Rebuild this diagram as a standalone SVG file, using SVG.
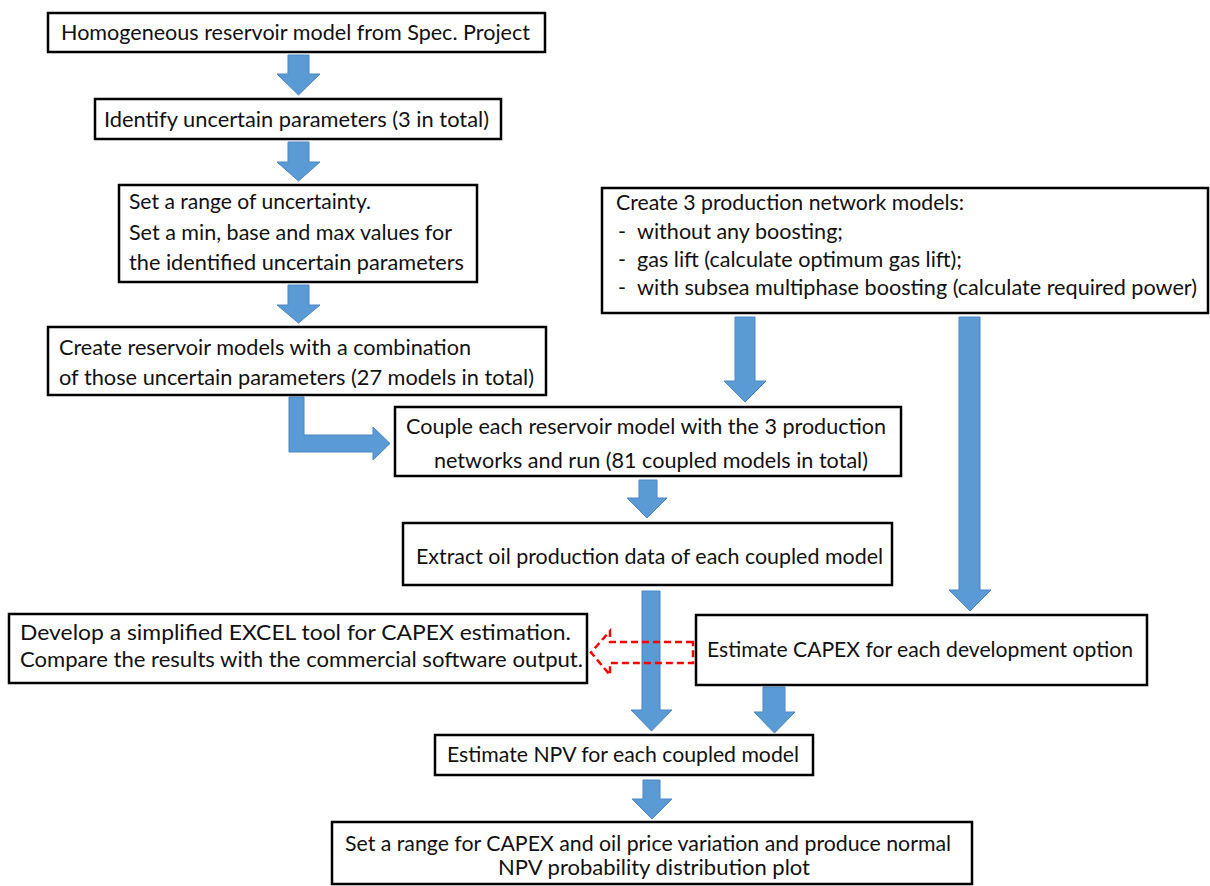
<svg xmlns="http://www.w3.org/2000/svg" width="1210" height="886" viewBox="0 0 1210 886">
<style>
.box{fill:#fff;stroke:#000;stroke-width:2.5}
.t{font-family:Lato,"Open Sans","Liberation Sans",sans-serif;font-size:21.5px;fill:#111}
.s{font-size:20.5px}
.arr{fill:#5B9BD5;stroke:#4A87C2;stroke-width:1}
.red{fill:none;stroke:#FF0000;stroke-width:2.5;stroke-dasharray:7,4}
</style>
<rect width="1210" height="886" fill="#fff"/>
<g id="connectors">
<polygon class="arr" points="288,55 309,55 309,74 320,74 298.5,95 277,74 288,74"/>
<polygon class="arr" points="288,142 309,142 309,162 320,162 298.5,181 277,162 288,162"/>
<polygon class="arr" points="288,285 309,285 309,305 320,305 298.5,323 277,305 288,305"/>
<polygon class="arr" points="289,397 304,397 304,435 373,435 373,427 390,443.5 373,460 373,452 289,452"/>
<polygon class="arr" points="735,317 755,317 755,381 766,381 745,402 724,381 735,381"/>
<polygon class="arr" points="959,317 980,317 980,590 991,590 970,611 949,590 959,590"/>
<polygon class="arr" points="639,480 657,480 657,498 667,498 647,518 627,498 639,498"/>
<polygon class="arr" points="642,591 660,591 660,710 672,710 651.5,731 631,710 642,710"/>
<polygon class="arr" points="763,687 785,687 785,712 795,712 774.5,733 754,712 763,712"/>
<polygon class="arr" points="643,780 660,780 660,799 672,799 652,819 632,799 643,799"/>
<polygon class="red" points="693,642 610,642 610,631 591,652.5 610,675 610,663 693,663"/>
</g>
<g id="n1">
<rect class="box" x="48" y="13" width="497" height="39"/>
<text class="t" x="61" y="40" textLength="469" lengthAdjust="spacingAndGlyphs">Homogeneous reservoir model from Spec. Project</text>
</g>
<g id="n2">
<rect class="box" x="95" y="99" width="406" height="40"/>
<text class="t" x="104" y="127" textLength="385" lengthAdjust="spacingAndGlyphs">Identify uncertain parameters (3 in total)</text>
</g>
<g id="n3">
<rect class="box" x="119" y="185" width="358" height="97"/>
<text class="t" x="129" y="209" textLength="242" lengthAdjust="spacingAndGlyphs">Set a range of uncertainty.</text>
<text class="t" x="129" y="240" textLength="323" lengthAdjust="spacingAndGlyphs">Set a min, base and max values for</text>
<text class="t" x="129" y="270" textLength="335" lengthAdjust="spacingAndGlyphs">the identified uncertain parameters</text>
</g>
<g id="n4">
<rect class="box" x="48" y="327" width="498" height="68"/>
<text class="t" x="59" y="355" textLength="412" lengthAdjust="spacingAndGlyphs">Create reservoir models with a combination</text>
<text class="t" x="59" y="385" textLength="475" lengthAdjust="spacingAndGlyphs">of those uncertain parameters (27 models in total)</text>
</g>
<g id="n5">
<rect class="box" x="602" y="188" width="606" height="125"/>
<text class="t" x="616" y="210" textLength="348" lengthAdjust="spacingAndGlyphs">Create 3 production network models:</text>
<text class="t" x="618" y="239">-</text>
<text class="t" x="637" y="239" textLength="206" lengthAdjust="spacingAndGlyphs">without any boosting;</text>
<text class="t" x="618" y="267">-</text>
<text class="t" x="637" y="267" textLength="325" lengthAdjust="spacingAndGlyphs">gas lift (calculate optimum gas lift);</text>
<text class="t" x="618" y="295">-</text>
<text class="t" x="637" y="295" textLength="560" lengthAdjust="spacingAndGlyphs">with subsea multiphase boosting (calculate required power)</text>
</g>
<g id="n6">
<rect class="box" x="395" y="407" width="506" height="69"/>
<text class="t" x="406" y="434" textLength="480" lengthAdjust="spacingAndGlyphs">Couple each reservoir model with the 3 production</text>
<text class="t" x="434" y="468" textLength="434" lengthAdjust="spacingAndGlyphs">networks and run (81 coupled models in total)</text>
</g>
<g id="n7">
<rect class="box" x="403" y="523" width="489" height="62"/>
<text class="t" x="416" y="564" textLength="467" lengthAdjust="spacingAndGlyphs">Extract oil production data of each coupled model</text>
</g>
<g id="n8">
<rect class="box" x="9" y="614" width="578" height="69"/>
<text class="t" x="20" y="640" textLength="551" lengthAdjust="spacingAndGlyphs">Develop a simplified EXCEL tool for CAPEX estimation.</text>
<text class="t" x="20" y="667" textLength="563" lengthAdjust="spacingAndGlyphs">Compare the results with the commercial software output.</text>
</g>
<g id="n9">
<rect class="box" x="696" y="615" width="451" height="70"/>
<text class="t" x="707" y="657" textLength="426" lengthAdjust="spacingAndGlyphs">Estimate CAPEX for each development option</text>
</g>
<g id="n10">
<rect class="box" x="435" y="735" width="378" height="40"/>
<text class="t" x="447" y="762" textLength="352" lengthAdjust="spacingAndGlyphs">Estimate NPV for each coupled model</text>
</g>
<g id="n11">
<rect class="box" x="332" y="822" width="640" height="62"/>
<text class="t s" x="345" y="851" textLength="606" lengthAdjust="spacingAndGlyphs">Set a range for CAPEX and oil price variation and produce normal</text>
<text class="t s" x="498" y="875" textLength="312" lengthAdjust="spacingAndGlyphs">NPV probability distribution plot</text>
</g>
</svg>
